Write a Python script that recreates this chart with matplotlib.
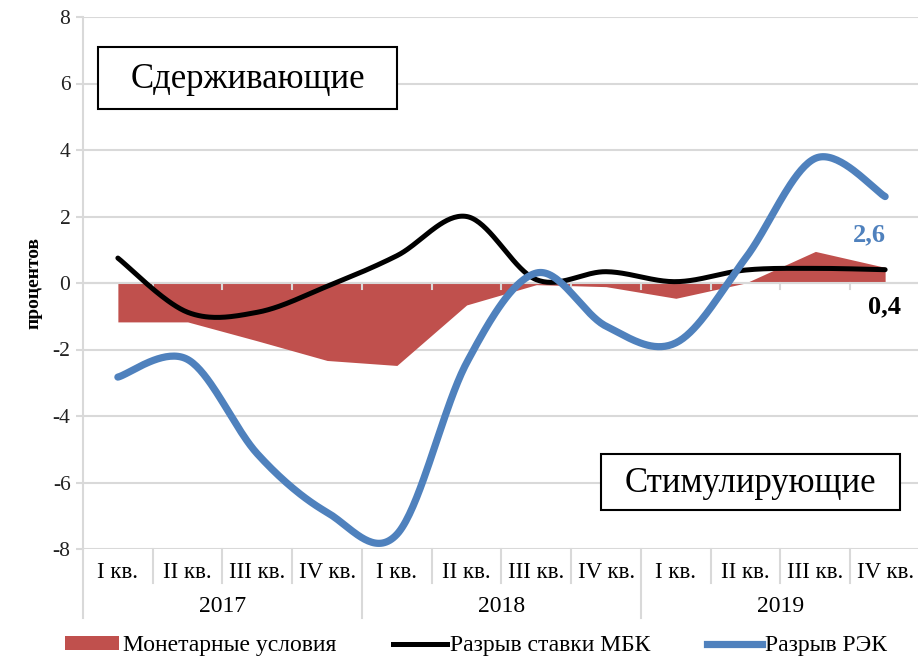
import numpy as np
import matplotlib
matplotlib.use("Agg")
import matplotlib.pyplot as plt
from matplotlib.patches import Rectangle, Patch
from matplotlib.lines import Line2D

plt.rcParams["font.family"] = ["Liberation Serif", "DejaVu Serif"]

# --- data -----------------------------------------------------------------
quarters = ["I кв.", "II кв.", "III кв.", "IV кв."] * 3
years = ["2017", "2018", "2019"]

monetary = [-1.17, -1.17, -1.74, -2.33, -2.48, -0.66, -0.05, -0.11, -0.46, 0.0, 0.95, 0.47]
mbk_gap = [0.75, -0.88, -0.88, -0.1, 0.82, 2.0, 0.1, 0.34, 0.04, 0.39, 0.44, 0.4]
rek_gap = [-2.83, -2.3, -5.14, -6.9, -7.56, -2.4, 0.3, -1.3, -1.8, 0.75, 3.75, 2.6]

RED = "#C0504D"
BLUE = "#4F81BD"
GRID = "#D9D9D9"


def excel_smooth(y, n=40):
    # bezier with catmull-rom style control points (like Excel "smoothed line")
    y = np.asarray(y, dtype=float)
    x = np.arange(len(y), dtype=float)
    pts = np.column_stack([x, y])
    out = []
    for i in range(len(pts) - 1):
        p0 = pts[max(i - 1, 0)]
        p1 = pts[i]
        p2 = pts[i + 1]
        p3 = pts[min(i + 2, len(pts) - 1)]
        c1 = p1 + (p2 - p0) / 6.0
        c2 = p2 - (p3 - p1) / 6.0
        t = np.linspace(0, 1, n)[:, None]
        seg = ((1 - t) ** 3) * p1 + 3 * ((1 - t) ** 2) * t * c1 + 3 * (1 - t) * t ** 2 * c2 + t ** 3 * p2
        out.append(seg if i == 0 else seg[1:])
    seg = np.vstack(out)
    return seg[:, 0], seg[:, 1]


W, H = 918, 658
fig = plt.figure(figsize=(W / 100, H / 100), dpi=100)
ax = fig.add_axes([83 / W, 1 - 549 / H, (920 - 83) / W, 532 / H])

xi = np.arange(len(quarters))
ax.fill_between(xi, 0, monetary, color=RED, linewidth=0, zorder=2)

bx, by = excel_smooth(mbk_gap)
ax.plot(bx, by, color="black", lw=3.6, solid_capstyle="round", zorder=4)
rx, ry = excel_smooth(rek_gap)
ax.plot(rx, ry, color=BLUE, lw=5.2, solid_capstyle="round", zorder=5)

ax.set_xlim(-0.5, len(quarters) - 0.5)
ax.set_ylim(-8, 8)
ax.set_yticks(np.arange(-8, 9, 2))
ax.set_yticklabels([str(v) for v in range(-8, 9, 2)])
ax.set_xticks([])
ax.yaxis.grid(True, color=GRID, lw=1.5, zorder=0)
ax.set_axisbelow(True)
for s in ["top", "right", "bottom"]:
    ax.spines[s].set_visible(False)
ax.spines["left"].set_color(GRID)
ax.spines["left"].set_linewidth(1.5)
ax.tick_params(axis="y", length=5, width=1.5, color=GRID, labelsize=15.5, pad=4, labelcolor="#222222")

# category axis at zero with boundary ticks
ax.axhline(0, color=GRID, lw=1.5, zorder=3)
for b in np.arange(0.5, len(quarters) - 0.5, 1):
    ax.plot([b, b], [0, -0.17], color=GRID, lw=1.5, zorder=3)

# multi-level category labels below plot
tr = ax.get_xaxis_transform()
for i, q in enumerate(quarters):
    ax.text(i, -0.045, q, transform=tr, ha="center", va="center", fontsize=16.5, clip_on=False)
for k, yr in enumerate(years):
    ax.text(4 * k + 1.5, -0.108, yr, transform=tr, ha="center", va="center", fontsize=17, clip_on=False)
for b in np.arange(-0.5, len(quarters), 1):
    low = -0.13 if (b + 0.5) % 4 == 0 else -0.064
    ax.plot([b, b], [0, low], transform=tr, color=GRID, lw=1.5, clip_on=False)

fig.text(34 / W, 1 - 283 / H, "процентов", rotation=90, ha="center", va="center",
         fontsize=14, fontweight="bold")

# end value labels
ax.text(10.77, 1.45, "2,6", color=BLUE, fontsize=19, fontweight="bold", ha="center", va="center")
ax.text(10.99, -0.72, "0,4", color="black", fontsize=19, fontweight="bold", ha="center", va="center")

# annotation boxes
def box(x0, y0, x1, y1, label):
    fig.patches.append(Rectangle((x0 / W, 1 - y1 / H), (x1 - x0) / W, (y1 - y0) / H,
                                 transform=fig.transFigure, facecolor="white",
                                 edgecolor="black", lw=1.5, zorder=6))
    fig.text((x0 + x1) / 2 / W, 1 - ((y0 + y1) / 2 + 2) / H, label, ha="center", va="center",
             fontsize=25, zorder=7)

box(98, 47, 397, 109, "Сдерживающие")
box(601, 454, 900, 510, "Стимулирующие")

handles = [
    Patch(facecolor=RED, edgecolor="none"),
    Line2D([0], [0], color="black", lw=3.6),
    Line2D([0], [0], color=BLUE, lw=5.2),
]
labels = ["Монетарные условия", "Разрыв ставки МБК", "Разрыв РЭК"]
fig.legend(handles, labels, loc="center", bbox_to_anchor=(476 / W, 1 - 646 / H), ncol=3,
           frameon=False, fontsize=17, handlelength=2.3, handleheight=0.55,
           handletextpad=0.15, columnspacing=2.4, borderpad=0)

fig.savefig("out.png", dpi=100)
